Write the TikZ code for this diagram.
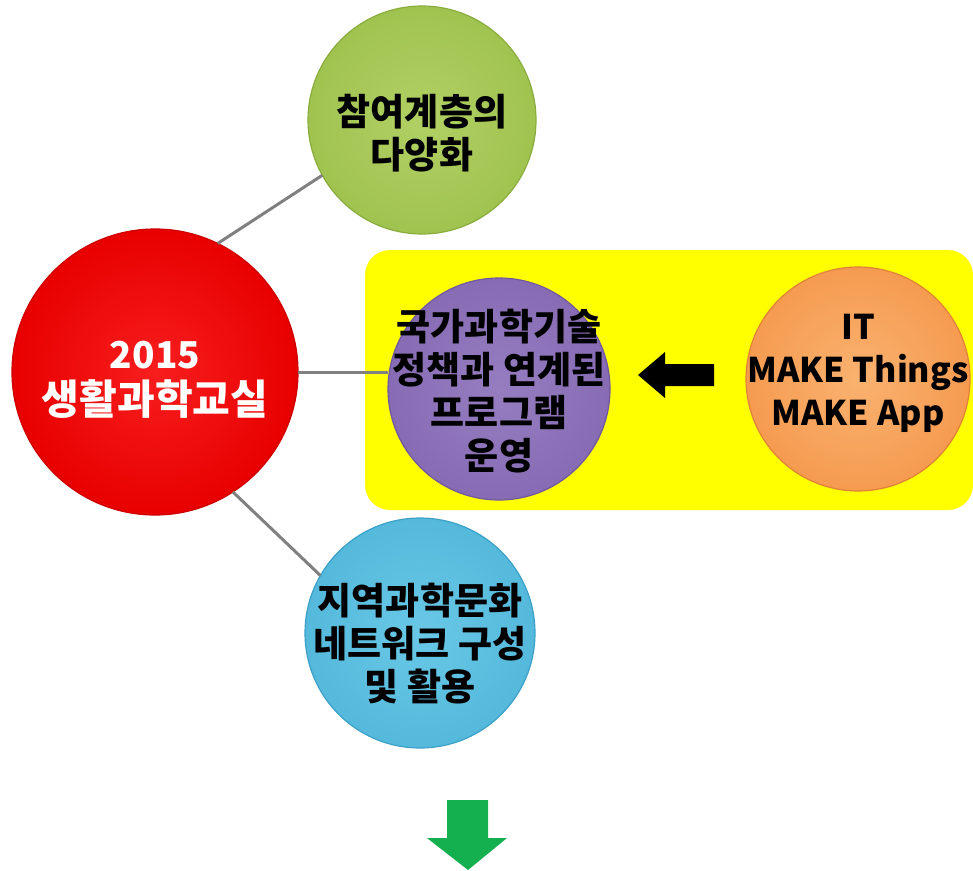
\documentclass[tikz,border=0pt]{standalone}
\usepackage{fontspec}
\setmainfont{Noto Sans CJK KR}
\definecolor{hlyellow}{RGB}{255,255,0}
\definecolor{linkgray}{RGB}{128,128,128}
\definecolor{redin}{RGB}{248,30,30}
\definecolor{redout}{RGB}{232,0,0}
\definecolor{rededge}{RGB}{205,0,0}
\definecolor{grnin}{RGB}{178,208,100}
\definecolor{grnout}{RGB}{160,195,80}
\definecolor{grnedge}{RGB}{138,172,60}
\definecolor{purin}{RGB}{150,125,192}
\definecolor{purout}{RGB}{135,108,180}
\definecolor{puredge}{RGB}{112,88,160}
\definecolor{orgin}{RGB}{250,178,112}
\definecolor{orgout}{RGB}{245,155,80}
\definecolor{orgedge}{RGB}{225,130,55}
\definecolor{bluin}{RGB}{105,200,230}
\definecolor{bluout}{RGB}{85,185,220}
\definecolor{bluedge}{RGB}{60,160,200}
\definecolor{downgreen}{RGB}{20,176,80}
\tikzset{
  ball/.style={circle, inner sep=0pt, outer sep=0pt, line width=1.2pt},
  lbl/.style={font=\bfseries\fontsize{37}{43}\selectfont, align=center, text=black, inner sep=0pt},
  link/.style={draw=linkgray, line width=3pt},
  hlbox/.style={rectangle, rounded corners=25pt, fill=hlyellow, inner sep=0pt, outer sep=0pt},
}
\begin{document}
\begin{tikzpicture}[x=1pt,y=-1pt]
\useasboundingbox[fill=white] (0,0) rectangle (973,870);
% yellow band
\node[hlbox, minimum width=608pt, minimum height=260pt] (band) at (669,380) {};
% circles
\node[ball, minimum size=286pt, inner color=redin, outer color=redout, draw=rededge] (red) at (155,372) {};
\node[ball, minimum size=228pt, inner color=grnin, outer color=grnout, draw=grnedge] (green) at (422,120) {};
\node[ball, minimum size=222pt, inner color=purin, outer color=purout, draw=puredge] (purple) at (499,389) {};
\node[ball, minimum size=224pt, inner color=orgin, outer color=orgout, draw=orgedge] (orange) at (858,379) {};
\node[ball, minimum size=230pt, inner color=bluin, outer color=bluout, draw=bluedge] (blue) at (420,633) {};
% connectors
\draw[link] (red.64) -- (green.209);
\draw[link] (red.0) -- (red.0 -| purple.west);
\draw[link] (red.-57) -- (blue.150);
% labels
\node[lbl, text=white, font=\bfseries\fontsize{41}{46}\selectfont] (redtxt) at (155,380) {{\fontsize{37}{46}\selectfont 2015}\\생활과학교실};
\node[lbl] (greentxt) at (422,133) {참여계층의\\다양화};
\node[lbl] (purtxt) at (499,391) {국가과학기술\\정책과 연계된\\프로그램\\운영};
\node[lbl, font=\bfseries\fontsize{34}{43}\selectfont] (orgtxt) at (858,373) {IT\\MAKE Things\\MAKE App};
\node[lbl] (blutxt) at (420,644) {지역과학문화\\네트워크 구성\\및 활용};
% black arrow
\fill[black] (714,364) -- (665,364) -- (665,352) -- (638,375) -- (665,398) -- (665,386) -- (714,386) -- cycle;
% green down arrow
\fill[downgreen] (447,800) -- (488,800) -- (488,838) -- (507,838) -- (468,870) -- (427,838) -- (447,838) -- cycle;
\end{tikzpicture}
\end{document}
